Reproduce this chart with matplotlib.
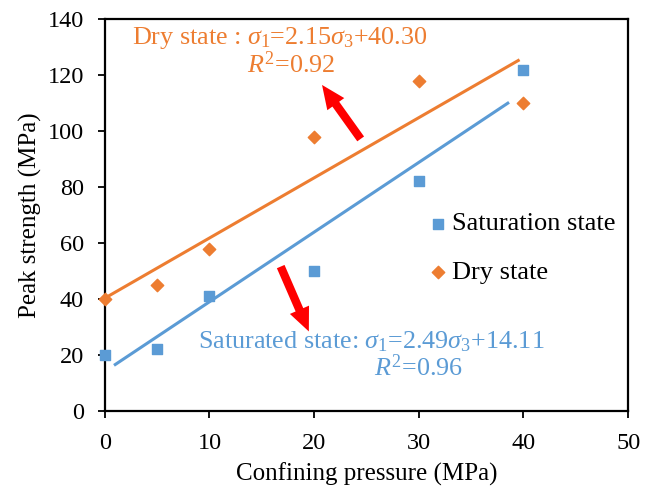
import matplotlib
matplotlib.use("Agg")
import matplotlib.pyplot as plt
import numpy as np

plt.rcParams['font.family'] = ['Liberation Serif', 'DejaVu Serif']
plt.rcParams['mathtext.fontset'] = 'custom'
plt.rcParams['mathtext.rm'] = 'Liberation Serif'
plt.rcParams['mathtext.it'] = 'Liberation Serif:italic'

pressure = [0, 5, 10, 20, 30, 40]
saturated = [20, 22, 41, 50, 82, 122]
dry = [40, 45, 58, 98, 118, 110]
sat_fit_x = [1, 38.5]
dry_fit_x = [0.3, 39.5]
sat_fit = (2.49, 14.11)
dry_fit = (2.15, 40.30)

blue = '#5b9bd5'
orange = '#ed7d31'

fig = plt.figure(figsize=(6.55, 4.91), dpi=100)
ax = fig.add_axes([0.160, 0.163, 0.799, 0.798])

sx = np.array(sat_fit_x)
dx = np.array(dry_fit_x)
ax.plot(sx, sat_fit[0] * sx + sat_fit[1], color=blue, lw=2.2, zorder=2)
ax.plot(dx, dry_fit[0] * dx + dry_fit[1], color=orange, lw=2.2, zorder=2)
ax.scatter(pressure, saturated, marker='s', s=48, color=blue, label='Saturation state',
           zorder=3, clip_on=False)
ax.scatter(pressure, dry, marker='D', s=40, color=orange, label='Dry state',
           zorder=3, clip_on=False)

ax.set_xlim(0, 50)
ax.set_ylim(0, 140)
ax.set_xticks(range(0, 51, 10))
ax.set_yticks(range(0, 141, 20))
ax.tick_params(labelsize=17.5, length=5, width=1.3)
ax.tick_params(axis='x', pad=11)
ax.tick_params(axis='y', pad=10)
for s in ax.spines.values():
    s.set_linewidth(1.6)
ax.set_xlabel('Confining pressure (MPa)', fontsize=18, labelpad=6)
ax.set_ylabel('Peak strength (MPa)', fontsize=18, labelpad=4)

leg = ax.legend(loc='center left', bbox_to_anchor=(0.611, 0.416), frameon=False,
                fontsize=19, labelspacing=0.95, handletextpad=0.05, handlelength=1.0,
                borderaxespad=0, borderpad=0)

fs = 18.8
ax.text(2.6, 133.2, r'Dry state : $\mathit{\sigma}_1$=2.15$\mathit{\sigma}_3$+40.30',
        color=orange, fontsize=fs, ha='left', va='center')
ax.text(13.6, 123.9, r'$\mathit{R}^2$=0.92', color=orange, fontsize=fs, ha='left', va='center')
ax.text(8.95, 24.6, r'Saturated state: $\mathit{\sigma}_1$=2.49$\mathit{\sigma}_3$+14.11',
        color=blue, fontsize=fs, ha='left', va='center')
ax.text(25.7, 15.4, r'$\mathit{R}^2$=0.96', color=blue, fontsize=fs, ha='left', va='center')

astyle = 'simple,head_width=1.5,head_length=1.7,tail_width=0.6'
ax.annotate('', xy=(20.6, 117.3), xytext=(24.6, 96.4),
            arrowprops=dict(arrowstyle=astyle, color='#ff0000', lw=0))
ax.annotate('', xy=(19.6, 27.5), xytext=(16.7, 52.5),
            arrowprops=dict(arrowstyle=astyle, color='#ff0000', lw=0))

fig.savefig('out.png', dpi=100)
